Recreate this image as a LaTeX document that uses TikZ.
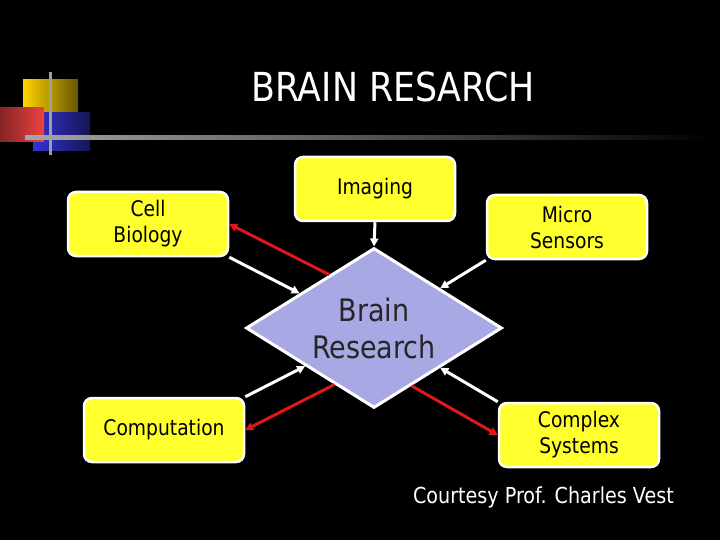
\documentclass[tikz,border=0pt]{standalone}
\usepackage{fontspec}
\newfontfamily\tahoma[FakeStretch=0.87]{DejaVu Sans}
\usetikzlibrary{shapes.geometric,arrows.meta}
\definecolor{boxyellow}{RGB}{255,255,45}
\definecolor{hubblue}{RGB}{168,168,228}
\definecolor{linkred}{RGB}{222,24,24}
\definecolor{logogold}{RGB}{255,212,0}
\definecolor{logoblue}{RGB}{52,52,212}
\definecolor{logored}{RGB}{238,66,66}

\begin{document}
\begin{tikzpicture}[x=1pt,y=-1pt,
  topic/.style={draw=white,line width=2.5pt,fill=boxyellow,rounded corners=8pt,minimum width=160pt,minimum height=64pt,inner sep=0pt,align=center,text=black,font=\tahoma\fontsize{21.5}{26}\selectfont},
  hub/.style={diamond,aspect=1.6,draw=white,line width=3pt,fill=hubblue,minimum width=256pt,minimum height=160pt,inner sep=0pt,align=center,text=black!85,font=\tahoma\fontsize{31}{37}\selectfont},
  feed/.style={white,line width=3pt,-{Triangle[length=8pt,width=8pt]}},
  back/.style={linkred,line width=3pt,-{Triangle[length=8pt,width=8pt]}},
  lab/.style={text=white,inner sep=0pt}]
\fill[black] (0,0) rectangle (720,540);
% logo
\shade[left color=logogold,middle color=logogold,right color=logogold!40!black] (23,80) rectangle (78,125);
\shade[left color=logoblue,middle color=logoblue,right color=logoblue!40!black] (33,113) rectangle (90,151);
\shade[left color=logored!55!black,right color=logored] (0,108) rectangle (44,142);
\fill[gray!75] (49,72) rectangle (52,155);
\shade[left color=gray!70,right color=black] (25,135.5) rectangle (712,139.5);
\node[lab,font=\tahoma\fontsize{40}{42}\selectfont] (title) at (393,87) {BRAIN RESARCH};
% boxes
\node[hub] (brain) at (374,328) {Brain\\Research};
\node[topic] (imaging) at (375,189) {Imaging};
\node[topic] (cell) at (148,224) {Cell\\Biology};
\node[topic] (micro) at (567,227) {Micro\\Sensors};
\node[topic] (comp) at (164,430) {Computation};
\node[topic] (complex) at (579,435) {Complex\\Systems};
% links
\draw[feed] (imaging.south) -- (brain.north);
\draw[feed] (cell.south east) -- (brain.155);
\draw[back] (brain.130) -- (cell.east);
\draw[feed] (micro.south west) -- (brain.31);
\draw[feed] (comp.north east) -- (brain.209);
\draw[back] (brain.235) -- (comp.east);
\draw[feed] (complex.north west) -- (brain.329);
\draw[back] (brain.303) -- (complex.west);
\node[lab,anchor=east,font=\tahoma\fontsize{22}{26}\selectfont] (credit) at (674,497) {Courtesy Prof. Charles Vest};
\end{tikzpicture}
\end{document}
